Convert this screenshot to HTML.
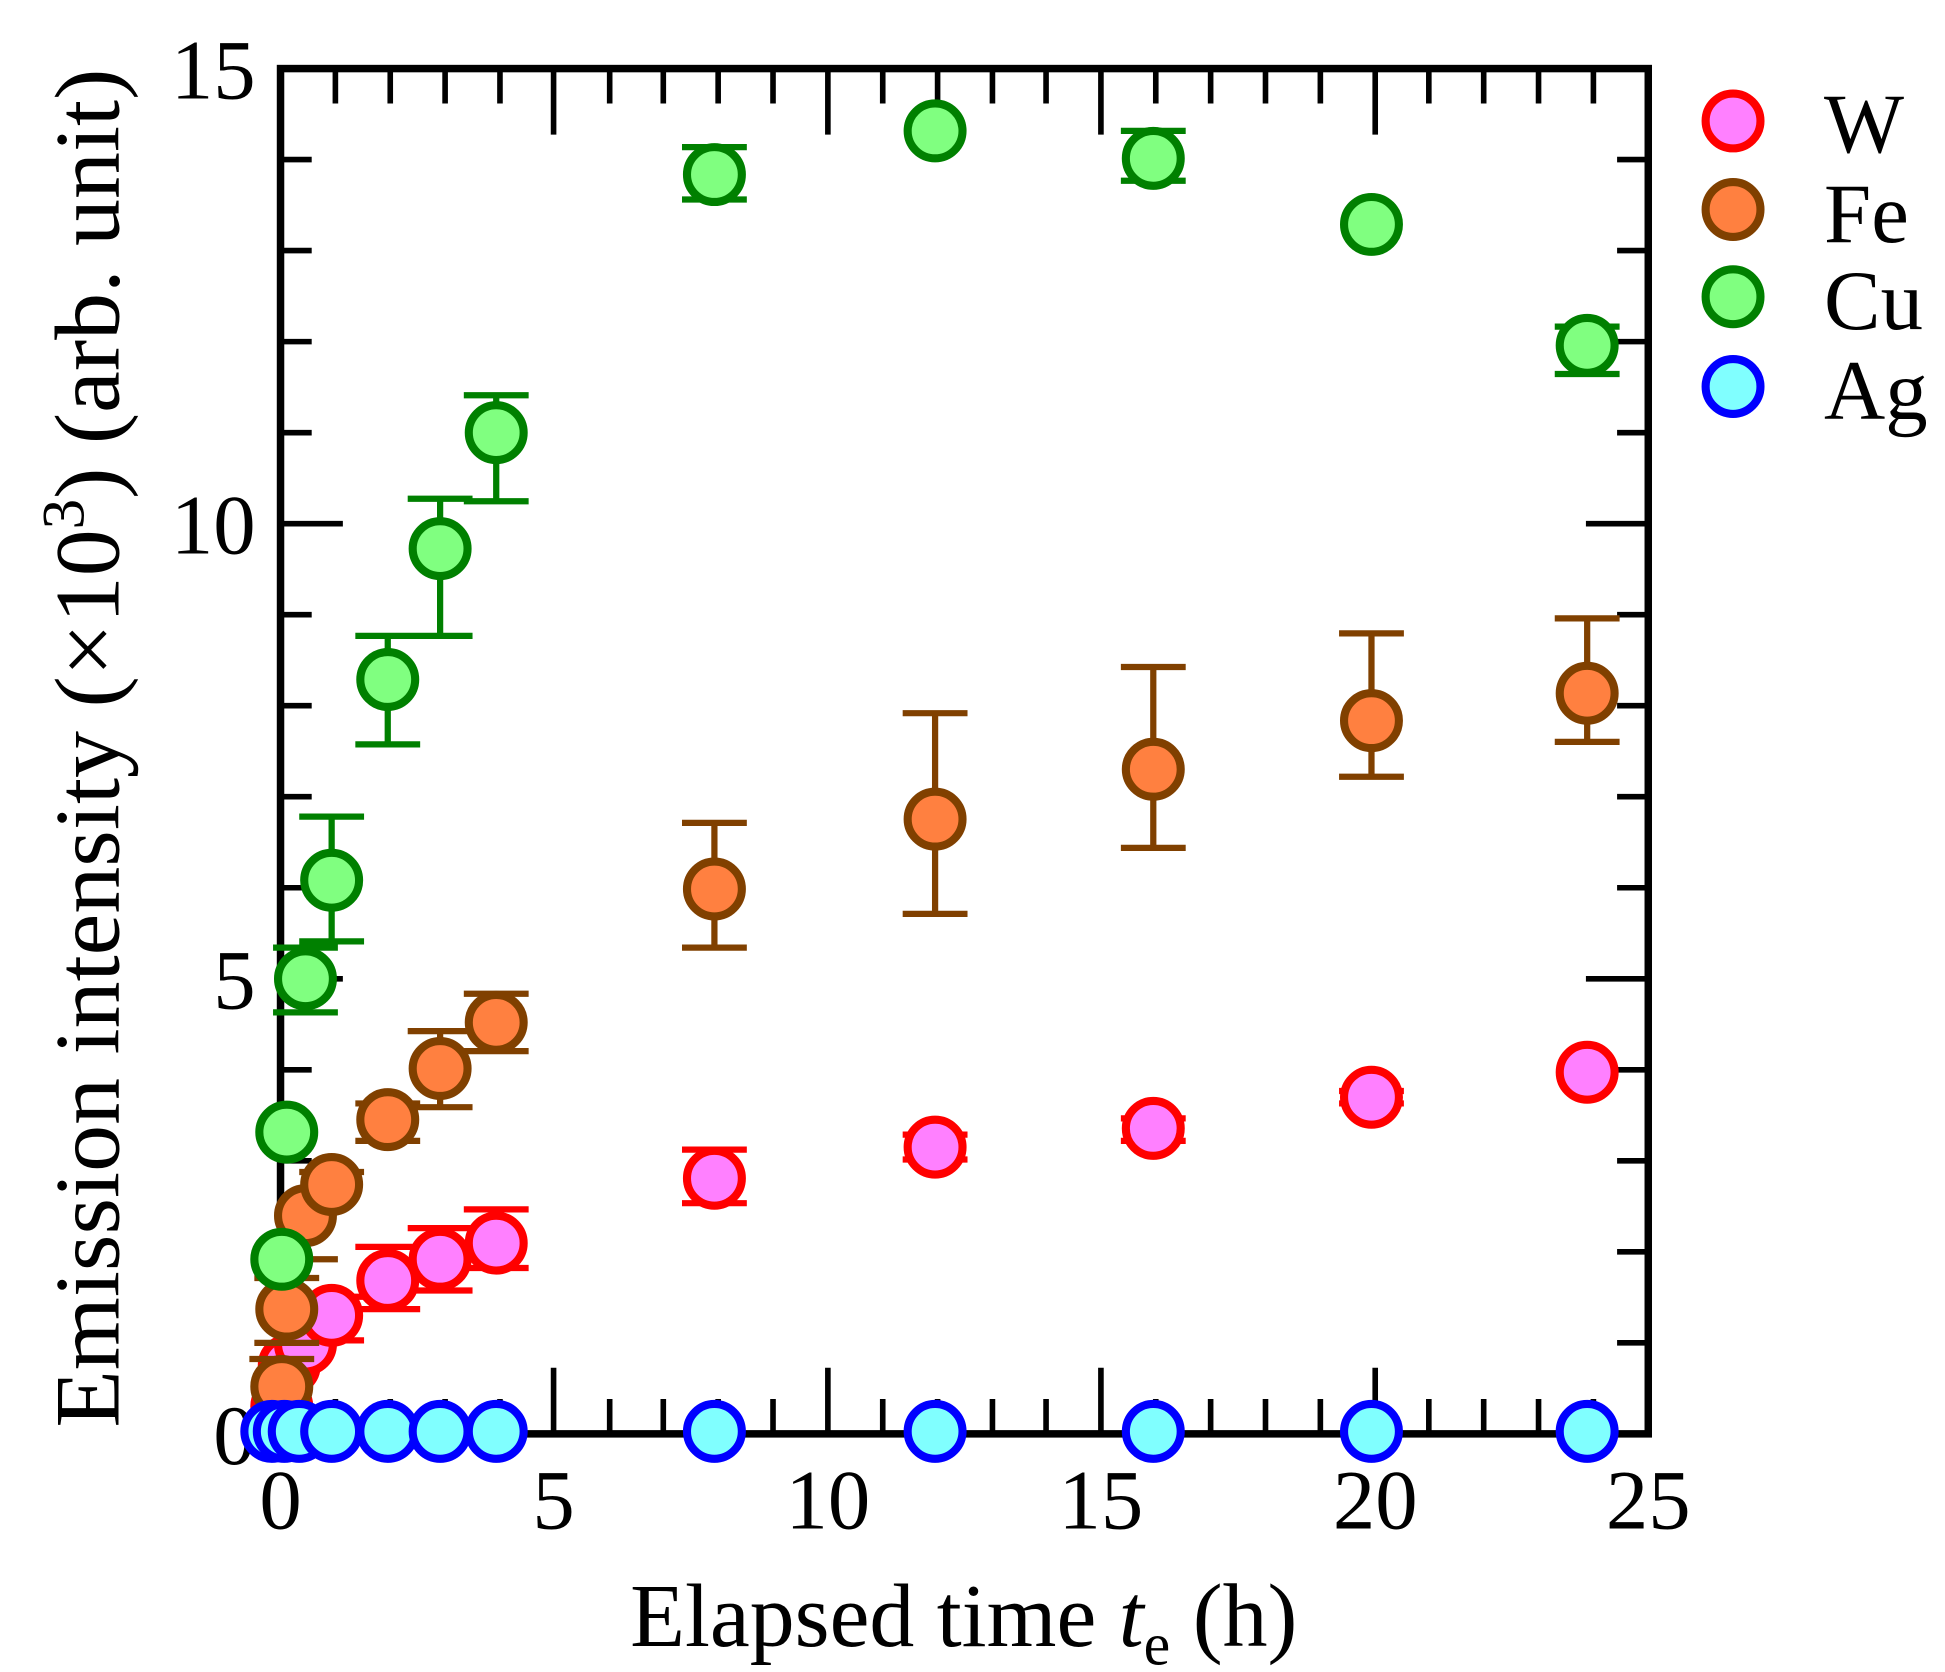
<!DOCTYPE html>
<html><head><meta charset="utf-8"><style>html,body{margin:0;padding:0;background:#fff}svg{display:block}</style></head>
<body>
<svg width="1945" height="1672" viewBox="0 0 1560 1341" preserveAspectRatio="none" xmlns="http://www.w3.org/2000/svg" font-family="'Liberation Serif', serif">
<rect width="1560" height="1341" fill="#fff"/>
<g stroke="#000" stroke-width="4.5" fill="none">
<rect x="225" y="55" width="1097" height="1095" stroke-width="6"/>
<path d="M269,1150v-28M313,1150v-28M357,1150v-28M401,1150v-28M489,1150v-28M532,1150v-28M576,1150v-28M620,1150v-28M708,1150v-28M752,1150v-28M796,1150v-28M839,1150v-28M927,1150v-28M971,1150v-28M1015,1150v-28M1059,1150v-28M1146,1150v-28M1190,1150v-28M1234,1150v-28M1278,1150v-28
M444,1150v-53M664,1150v-53M883,1150v-53M1103,1150v-53
M269,55v28M313,55v28M357,55v28M401,55v28M489,55v28M532,55v28M576,55v28M620,55v28M708,55v28M752,55v28M796,55v28M839,55v28M927,55v28M971,55v28M1015,55v28M1059,55v28M1146,55v28M1190,55v28M1234,55v28M1278,55v28
M444,55v53M664,55v53M883,55v53M1103,55v53"/>
<path d="M225,1077h25M225,1004h25M225,931h25M225,858h25M225,712h25M225,639h25M225,566h25M225,493h25M225,347h25M225,274h25M225,201h25M225,128h25
M225,785h50M225,420h50
M1322,1077h-25M1322,1004h-25M1322,931h-25M1322,858h-25M1322,712h-25M1322,639h-25M1322,566h-25M1322,493h-25M1322,347h-25M1322,274h-25M1322,201h-25M1322,128h-25
M1322,785h-50M1322,420h-50"/>
</g>
<g font-size="68" fill="#000">
<text x="205" y="79" text-anchor="end">15</text>
<text x="205" y="444" text-anchor="end">10</text>
<text x="205" y="809" text-anchor="end">5</text>
<text x="205" y="1174" text-anchor="end">0</text>
<text x="225" y="1226" text-anchor="middle">0</text>
<text x="444" y="1226" text-anchor="middle">5</text>
<text x="664" y="1226" text-anchor="middle">10</text>
<text x="883" y="1226" text-anchor="middle">15</text>
<text x="1103" y="1226" text-anchor="middle">20</text>
<text x="1322" y="1226" text-anchor="middle">25</text>
</g>
<text x="773" y="1320" font-size="72" text-anchor="middle">Elapsed time <tspan font-style="italic">t</tspan><tspan font-size="48" dy="15">e</tspan><tspan dy="-15"> (h)</tspan></text>
<text transform="translate(95,600) rotate(-90)" font-size="74" text-anchor="middle" textLength="1090" lengthAdjust="spacingAndGlyphs">Emission intensity (×10<tspan font-size="48" dy="-28">3</tspan><tspan dy="28">)  (arb. unit)</tspan></text>

<!-- W -->
<g stroke="#ff0000" stroke-width="5" fill="none">
<path d="M266,1040v35M240,1040h52M240,1075h52M311,1000v50M285,1000h52M285,1050h52M353,985v50M327,985h52M327,1035h52M398,970v47M372,970h52M372,1017h52M573,922v43M547,922h52M547,965h52M750,910v20M724,910h52M724,930h52M925,897v18M899,897h52M899,915h52M1100,875v10M1074,875h52M1074,885h52"/>
</g>
<g stroke="#ff0000" stroke-width="6.5" fill="#ff80ff">
<circle cx="226" cy="1128" r="22"/><circle cx="232" cy="1095" r="22"/><circle cx="245" cy="1078" r="22"/><circle cx="266" cy="1055" r="22"/><circle cx="311" cy="1027" r="22"/><circle cx="353" cy="1010" r="22"/><circle cx="398" cy="997" r="22"/><circle cx="573" cy="945" r="22"/><circle cx="750" cy="920" r="22"/><circle cx="925" cy="905" r="22"/><circle cx="1100" cy="880" r="22"/><circle cx="1273" cy="860" r="22"/>
</g>
<!-- Fe -->
<g stroke="#804000" stroke-width="5" fill="none">
<path d="M226,1090v45M200,1090h52M230,1025v52M204,1025h52M204,1077h52M245,955v55M219,1010h52M266,940v25M240,940h52M311,885v30M285,885h52M285,915h52M353,827v61M327,827h52M327,888h52M398,797v46M372,797h52M372,843h52M573,660v100M547,660h52M547,760h52M750,572v161M724,572h52M724,733h52M925,535v145M899,535h52M899,680h52M1100,508v115M1074,508h52M1074,623h52M1273,496v99M1247,496h52M1247,595h52"/>
</g>
<g stroke="#804000" stroke-width="6.5" fill="#ff8040">
<circle cx="226" cy="1112" r="22"/><circle cx="230" cy="1050" r="22"/><circle cx="245" cy="975" r="22"/><circle cx="266" cy="950" r="22"/><circle cx="311" cy="898" r="22"/><circle cx="353" cy="857" r="22"/><circle cx="398" cy="820" r="22"/><circle cx="573" cy="713" r="22"/><circle cx="750" cy="657" r="22"/><circle cx="925" cy="617" r="22"/><circle cx="1100" cy="578" r="22"/><circle cx="1273" cy="556" r="22"/>
</g>
<!-- Cu -->
<g stroke="#008000" stroke-width="5" fill="none">
<path d="M245,760v52M219,760h52M219,812h52M266,655v100M240,655h52M240,755h52M311,510v87M285,510h52M285,597h52M353,400v110M327,400h52M327,510h52M398,317v85M372,317h52M372,402h52M573,118v42M547,118h52M547,160h52M750,92v28M925,105v40M899,105h52M899,145h52M1100,175v10M1273,262v38M1247,262h52M1247,300h52"/>
</g>
<g stroke="#008000" stroke-width="6.5" fill="#80ff80">
<circle cx="226" cy="1010" r="22"/><circle cx="230" cy="908" r="22"/><circle cx="245" cy="785" r="22"/><circle cx="266" cy="706" r="22"/><circle cx="311" cy="545" r="22"/><circle cx="353" cy="440" r="22"/><circle cx="398" cy="347" r="22"/><circle cx="573" cy="140" r="22"/><circle cx="750" cy="105" r="22"/><circle cx="925" cy="127" r="22"/><circle cx="1100" cy="180" r="22"/><circle cx="1273" cy="277" r="22"/>
</g>
<!-- Ag -->
<g stroke="#0000ff" stroke-width="6.5" fill="#80ffff">
<circle cx="218" cy="1148" r="22"/><circle cx="228" cy="1148" r="22"/><circle cx="240" cy="1148" r="22"/><circle cx="266" cy="1148" r="22"/><circle cx="311" cy="1148" r="22"/><circle cx="353" cy="1148" r="22"/><circle cx="398" cy="1148" r="22"/><circle cx="573" cy="1148" r="22"/><circle cx="750" cy="1148" r="22"/><circle cx="925" cy="1148" r="22"/><circle cx="1100" cy="1148" r="22"/><circle cx="1273" cy="1148" r="22"/>
</g>
<!-- legend -->
<circle cx="1390" cy="97" r="22" stroke="#ff0000" stroke-width="6.5" fill="#ff80ff"/>
<circle cx="1390" cy="168" r="22" stroke="#804000" stroke-width="6.5" fill="#ff8040"/>
<circle cx="1390" cy="238" r="22" stroke="#008000" stroke-width="6.5" fill="#80ff80"/>
<circle cx="1390" cy="310" r="22" stroke="#0000ff" stroke-width="6.5" fill="#80ffff"/>
<g font-size="68" fill="#000">
<text x="1463" y="122">W</text>
<text x="1463" y="194">Fe</text>
<text x="1463" y="264">Cu</text>
<text x="1463" y="336">Ag</text>
</g>
</svg>
</body></html>
